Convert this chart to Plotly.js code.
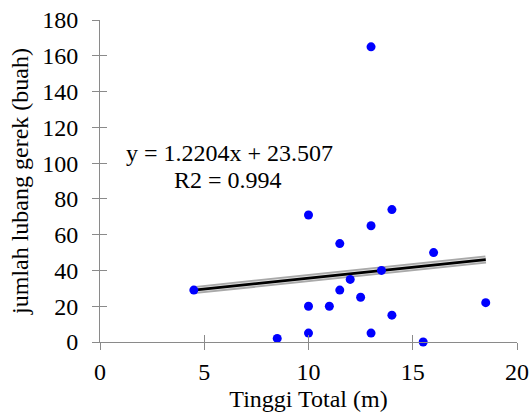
<!DOCTYPE html>
<html>
<head>
<meta charset="utf-8">
<script src="https://cdn.plot.ly/plotly-3.0.1.min.js"></script>
<style>html,body{margin:0;padding:0;background:#fff;}#chart{width:531px;height:418px;}</style>
</head>
<body>
<div id="chart"></div>
<script>
// Data
const tinggiTotal = [13, 10, 14, 13, 11.5, 16, 13.5, 12, 4.5, 11.5, 12.5, 10, 11, 18.5, 14, 10, 13, 8.5, 15.5];
const jumlahLubang = [165, 71, 74, 65, 55, 50, 40, 35, 29, 29, 25, 20, 20, 22, 15, 5, 5, 2, 0];
const trendX = [4.5, 18.5];
const trendSlope = 1.2204;
const trendIntercept = 23.507;
const trendY = trendX.map(v => trendSlope * v + trendIntercept);
const xTicks = [0, 5, 10, 15, 20];
const yTicks = [0, 20, 40, 60, 80, 100, 120, 140, 160, 180];
const eqText = 'y = 1.2204x + 23.507';
const r2Text = 'R2 = 0.994';

const FONT = 'Liberation Serif';
const axisColor = '#8a8a8a';

const traces = [
  {x: trendX, y: trendY, mode: 'lines', line: {color: '#a9a9a9', width: 8}, hoverinfo: 'skip', showlegend: false, cliponaxis: false},
  {x: trendX, y: trendY, mode: 'lines', line: {color: '#dedede', width: 4.5}, hoverinfo: 'skip', showlegend: false, cliponaxis: false},
  {x: trendX, y: trendY, mode: 'lines', line: {color: '#000000', width: 2.8}, hoverinfo: 'skip', showlegend: false, cliponaxis: false},
  {x: tinggiTotal, y: jumlahLubang, mode: 'markers', marker: {color: '#0000ff', size: 9}, showlegend: false, cliponaxis: false},
  {x: [null], y: [null], xaxis: 'x2', yaxis: 'y2', mode: 'markers', showlegend: false, hoverinfo: 'skip'}
];

const baseAxis = {
  showgrid: false, zeroline: false, showline: true, linecolor: axisColor, linewidth: 1,
  ticks: 'outside', ticklen: 7, tickcolor: axisColor, tickwidth: 1,
  tickfont: {family: FONT, size: 24, color: '#000'}, fixedrange: true
};

const layout = {
  width: 531, height: 418,
  margin: {l: 100, r: 14, t: 20, b: 76},
  paper_bgcolor: '#fff', plot_bgcolor: '#fff',
  font: {family: FONT, size: 24, color: '#000'},
  showlegend: false,
  xaxis: Object.assign({}, baseAxis, {
    range: [0, 20], tickvals: xTicks, ticktext: xTicks.map(String), ticklabelstandoff: 1,
    title: {text: 'Tinggi Total (m)', font: {family: FONT, size: 24, color: '#000'}, standoff: 6}
  }),
  yaxis: Object.assign({}, baseAxis, {
    range: [0, 180], tickvals: yTicks, ticktext: yTicks.map(String), ticklabelstandoff: 9,
    title: {text: 'jumlah lubang gerek (buah)', font: {family: FONT, size: 24, color: '#000'}, standoff: 6}
  }),
  xaxis2: {overlaying: 'x', range: [0, 20], tickvals: xTicks, ticks: 'inside', ticklen: 7, tickcolor: axisColor,
           showticklabels: false, showgrid: false, zeroline: false, showline: false, side: 'bottom', anchor: 'y2'},
  yaxis2: {overlaying: 'y', range: [0, 180], tickvals: yTicks, ticks: 'inside', ticklen: 7, tickcolor: axisColor,
           showticklabels: false, showgrid: false, zeroline: false, showline: false, side: 'left', anchor: 'x2'},
  annotations: [
    {x: 6.19, y: 105.6, xref: 'x', yref: 'y', text: eqText, showarrow: false, xanchor: 'center', yanchor: 'middle',
     font: {family: FONT, size: 24, color: '#000'}},
    {x: 6.12, y: 90.5, xref: 'x', yref: 'y', text: r2Text, showarrow: false, xanchor: 'center', yanchor: 'middle',
     font: {family: FONT, size: 24, color: '#000'}}
  ]
};

Plotly.newPlot('chart', traces, layout, {displayModeBar: false, staticPlot: true});
</script>
</body>
</html>
